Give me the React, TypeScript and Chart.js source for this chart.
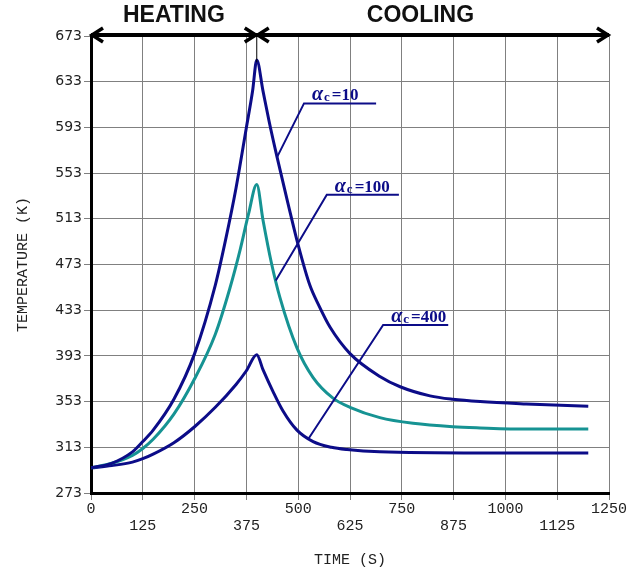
import { useEffect, useRef } from "react";
import { Chart, registerables } from "chart.js";

Chart.register(...registerables);

// ---- data ----
const timeMin = 0;
const timeMax = 1250;
const timeStep = 125;
const tempMin = 273;
const tempMax = 673;
const tempStep = 40;
const peakTime = 400;

const alpha10Time = [0, 50, 100, 125, 150, 200, 250, 300, 325, 350, 375, 390, 400, 415, 430, 449, 475, 500, 528, 550, 577, 625, 697, 746, 818, 873, 939, 1050, 1200];
const alpha10Temp = [295, 299, 309, 318, 328, 355, 395, 455, 495, 540, 593, 625, 652, 625, 598, 567, 527, 490, 455, 437, 418, 395, 375, 366, 358, 355, 353, 351, 349];

const alpha100Time = [0, 50, 100, 125, 150, 200, 250, 300, 335, 360, 380, 400, 415, 435, 456, 497, 536, 584, 625, 697, 777, 873, 939, 1050, 1200];
const alpha100Temp = [295, 299, 306, 312, 320, 342, 373, 412, 452, 486, 517, 543, 512, 475, 444, 400, 374, 356, 348, 339, 334, 331, 330, 329, 329];

const alpha400Time = [0, 50, 100, 125, 150, 200, 250, 300, 350, 375, 400, 415, 439, 463, 497, 536, 580, 618, 697, 939, 1200];
const alpha400Temp = [295, 297, 300, 303, 307, 317, 331, 348, 368, 380, 394, 381, 362, 345, 328, 318, 313, 311, 309, 308, 308];

const seriesLabels = ["10", "100", "400"];
const phaseLabels = ["HEATING", "COOLING"];

const NAVY = "#0c0c88";
const TEAL = "#169393";

const pts = (t: number[], v: number[]) => t.map((x, i) => ({ x, y: v[i] }));

// callout anchors in data space: [label, underline start t, underline end t, underline T, leader end t, leader end T]
const callouts: [string, number, number, number, number, number][] = [
  [seriesLabels[0], 514, 688, 614, 449, 567],
  [seriesLabels[1], 569, 743, 534, 446, 459],
  [seriesLabels[2], 705, 862, 420, 524, 320],
];

function arrowHead(ctx: CanvasRenderingContext2D, x: number, y: number, dir: number) {
  ctx.beginPath();
  ctx.moveTo(x - dir * 11, y - 7);
  ctx.lineTo(x, y);
  ctx.lineTo(x - dir * 11, y + 7);
  ctx.stroke();
}

const overlayPlugin = {
  id: "overlay",
  afterDraw(chart: any) {
    const { ctx, scales } = chart;
    const xs = scales.x;
    const ys = scales.y;
    const top = chart.chartArea.top - 1;
    const x0 = xs.getPixelForValue(timeMin);
    const xp = xs.getPixelForValue(peakTime);
    const x1 = xs.getPixelForValue(timeMax);
    ctx.save();
    // thin marker at peak
    ctx.strokeStyle = "#000";
    ctx.lineWidth = 1;
    ctx.beginPath();
    ctx.moveTo(xp, top);
    ctx.lineTo(xp, ys.getPixelForValue(650));
    ctx.stroke();
    // arrows
    ctx.lineWidth = 4;
    ctx.lineCap = "butt";
    ctx.beginPath();
    ctx.moveTo(x0, top);
    ctx.lineTo(x1, top);
    ctx.stroke();
    ctx.lineWidth = 3.5;
    arrowHead(ctx, x0 + 1, top, -1);
    arrowHead(ctx, xp - 1, top, 1);
    arrowHead(ctx, xp + 1, top, -1);
    arrowHead(ctx, x1 - 1, top, 1);
    // phase labels
    ctx.fillStyle = "#111";
    ctx.font = 'bold 23px "Liberation Sans"';
    ctx.textAlign = "center";
    ctx.textBaseline = "middle";
    ctx.fillText(phaseLabels[0], xs.getPixelForValue(200), 16);
    ctx.fillText(phaseLabels[1], xs.getPixelForValue(795), 16);

    // callouts
    ctx.strokeStyle = NAVY;
    ctx.fillStyle = NAVY;
    ctx.lineWidth = 2;
    for (const [val, t0, t1, T, te, Te] of callouts) {
      const ux0 = xs.getPixelForValue(t0);
      const ux1 = xs.getPixelForValue(t1);
      const uy = ys.getPixelForValue(T);
      ctx.beginPath();
      ctx.moveTo(ux1, uy);
      ctx.lineTo(ux0, uy);
      ctx.lineTo(xs.getPixelForValue(te), ys.getPixelForValue(Te));
      ctx.stroke();
      ctx.textAlign = "left";
      ctx.textBaseline = "alphabetic";
      let x = ux0 + 8;
      const base = uy - 3;
      ctx.font = 'italic bold 20px "Liberation Serif"';
      ctx.fillText("α", x, base);
      x += ctx.measureText("α").width + 1;
      ctx.font = 'bold 13px "Liberation Serif"';
      ctx.fillText("c", x, base + 1);
      x += ctx.measureText("c").width + 2;
      ctx.font = 'bold 17px "Liberation Serif"';
      ctx.fillText("=" + val, x, base);
    }
    ctx.restore();
  },
};

export default function App() {
  const ref = useRef<HTMLCanvasElement>(null);
  useEffect(() => {
    if (!ref.current) return;
    const line = (data: any, color: string) => ({
      data,
      borderColor: color,
      backgroundColor: color,
      borderWidth: 3,
      pointRadius: 0,
      fill: false,
      cubicInterpolationMode: "monotone" as const,
    });
    const chart = new Chart(ref.current, {
      type: "line",
      data: {
        datasets: [
          { label: "αc=10", ...line(pts(alpha10Time, alpha10Temp), NAVY) },
          { label: "αc=100", ...line(pts(alpha100Time, alpha100Temp), TEAL) },
          { label: "αc=400", ...line(pts(alpha400Time, alpha400Temp), NAVY) },
        ],
      },
      options: {
        animation: false,
        responsive: true,
        maintainAspectRatio: false,
        layout: { padding: { top: 36, right: 33, left: 0, bottom: 0 } },
        plugins: { legend: { display: false }, tooltip: { enabled: false } },
        scales: {
          x: {
            type: "linear",
            min: timeMin,
            max: timeMax,
            afterFit: (s: any) => {
              s.height = 78;
            },
            ticks: {
              stepSize: timeStep,
              autoSkip: false,
              maxRotation: 0,
              padding: 0,
              color: "#222",
              font: { family: '"Liberation Mono"', size: 15, lineHeight: 1.15 },
              callback: (v: any, i: number) => (i % 2 === 1 ? ["", String(v)] : String(v)),
            },
            grid: { color: "#808080", lineWidth: 1, tickLength: 7, tickColor: "#808080" },
            border: { color: "#000", width: 3 },
            title: {
              display: true,
              text: "TIME (S)",
              color: "#222",
              font: { family: '"Liberation Mono"', size: 15 },
              padding: { top: 0, bottom: 2 },
            },
          },
          y: {
            type: "linear",
            min: tempMin,
            max: tempMax,
            afterFit: (s: any) => {
              s.width = 91;
            },
            ticks: {
              stepSize: tempStep,
              autoSkip: false,
              padding: 2,
              color: "#222",
              font: { family: '"DejaVu Sans"', size: 14 },
            },
            grid: { color: "#808080", lineWidth: 1, tickLength: 7, tickColor: "#808080" },
            border: { color: "#000", width: 3 },
            title: {
              display: true,
              text: "TEMPERATURE (K)",
              color: "#222",
              font: { family: '"Liberation Mono"', size: 15 },
              padding: { top: 14, bottom: 0 },
            },
          },
        },
      },
      plugins: [overlayPlugin],
    });
    return () => chart.destroy();
  }, []);
  return (
    <div style={{ position: "absolute", left: 0, top: 0, width: 642, height: 571, background: "#fff" }}>
      <canvas ref={ref} />
    </div>
  );
}
